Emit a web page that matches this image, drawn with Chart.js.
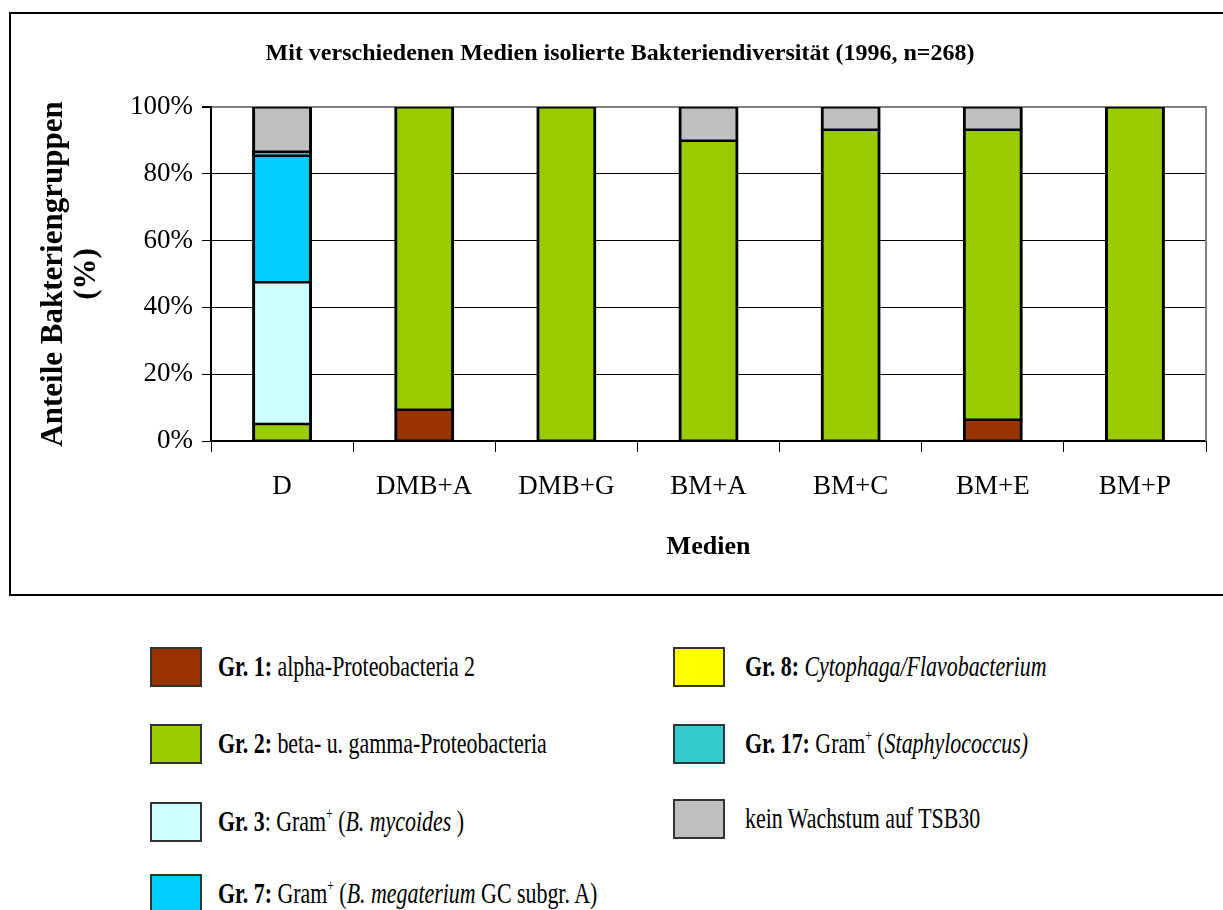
<!DOCTYPE html>
<html lang="de">
<head>
<meta charset="utf-8">
<title>Bakteriendiversität 1996</title>
<script src="https://cdn.jsdelivr.net/npm/chart.js@4.4.1/dist/chart.umd.min.js"></script>
<style>
  html, body { margin: 0; padding: 0; background: #fff; overflow: hidden; }
  body { width: 1223px; height: 910px; position: relative; font-family: 'Liberation Serif', 'Times New Roman', serif; }
  #frame { position: absolute; left: 9px; top: 12px; width: 1300px; height: 584px; border: 2px solid #000; box-sizing: border-box; }
  #chart { position: absolute; left: 0; top: 0; }
  .item { position: absolute; height: 40px; }
  .swatch { position: absolute; left: 0; top: 0; width: 52px; height: 40px; border: 2px solid #333; box-sizing: border-box; }
  .label { position: absolute; top: 50%; white-space: nowrap; font-size: 30px; line-height: 1; color: #000;
           transform: translateY(-54%) scaleX(0.73); transform-origin: left center; }
  .label sup { font-size: 16px; vertical-align: 12px; }
</style>
</head>
<body>
<div id="frame"></div>
<canvas id="chart" width="1223" height="596"></canvas>
<div id="legend"></div>

<script>
// --- Data ---
const categories = ['D', 'DMB+A', 'DMB+G', 'BM+A', 'BM+C', 'BM+E', 'BM+P'];

const gr1  = [0,    9.4,  0,   0,  0,    6.4,  0];   // alpha-Proteobacteria 2
const gr2  = [5.2,  90.6, 100, 90, 93.3, 86.9, 100]; // beta- u. gamma-Proteobacteria
const gr3  = [42.4, 0,    0,   0,  0,    0,    0];   // Gram+ (B. mycoides)
const gr7  = [37.9, 0,    0,   0,  0,    0,    0];   // Gram+ (B. megaterium)
const gr8  = [0,    0,    0,   0,  0,    0,    0];   // Cytophaga/Flavobacterium
const gr17 = [1.2,  0,    0,   0,  0,    0,    0];   // Gram+ (Staphylococcus)
const kein = [13.3, 0,    0,   10, 6.7,  6.7,  0];   // kein Wachstum auf TSB30

const yTicks = [0, 20, 40, 60, 80, 100];

const seriesNames = [
  'Gr. 1: alpha-Proteobacteria 2',
  'Gr. 2: beta- u. gamma-Proteobacteria',
  'Gr. 3: Gram+ (B. mycoides)',
  'Gr. 7: Gram+ (B. megaterium GC subgr. A)',
  'Gr. 8: Cytophaga/Flavobacterium',
  'Gr. 17: Gram+ (Staphylococcus)',
  'kein Wachstum auf TSB30'
];
const seriesData = [gr1, gr2, gr3, gr7, gr8, gr17, kein];
const seriesColors = ['#993300', '#99CC00', '#CCFFFF', '#00CCFF', '#FFFF00', '#33CCCC', '#C0C0C0'];

// legend text with the original mixed bold / italic / superscript styling
const legendHtml = [
  '<b>Gr. 1:</b> alpha-Proteobacteria 2',
  '<b>Gr. 2:</b> beta- u. gamma-Proteobacteria',
  '<b>Gr. 3</b>: Gram<sup>+</sup> (<i>B. mycoides</i> )',
  '<b>Gr. 7:</b> Gram<sup>+</sup> (<i>B. megaterium</i> GC subgr. A)',
  '<b>Gr. 8:</b> <i>Cytophaga/Flavobacterium</i>',
  '<b>Gr. 17:</b> Gram<sup>+</sup> (<i>Staphylococcus)</i>',
  'kein Wachstum auf TSB30'
];
// --- Legend layout (left column: first four, right column: rest) ---
const legendPos = [
  [150, 647], [150, 724], [150, 802], [150, 874],
  [673, 647], [673, 724], [673, 799]
];

const FONT = "'Liberation Serif', 'Times New Roman', serif";
Chart.defaults.font.family = FONT;
Chart.defaults.color = '#000';

// gray right edge of the plot area
const plotEdge = {
  id: 'plotEdge',
  beforeDatasetsDraw(chart) {
    const { ctx, chartArea: a } = chart;
    ctx.save();
    ctx.strokeStyle = '#808080';
    ctx.lineWidth = 2;
    ctx.beginPath();
    ctx.moveTo(a.right, a.top - 1);
    ctx.lineTo(a.right, a.bottom);
    ctx.stroke();
    ctx.restore();
  }
};

const datasets = seriesNames.map((name, i) => ({
  label: name,
  data: seriesData[i],
  backgroundColor: seriesColors[i],
  borderColor: '#000',
  borderWidth: { top: 2, bottom: 1.5, left: 3, right: 3 },
  borderSkipped: false,
  inflateAmount: 0.5, // hides anti-aliasing seams between stacked segments
  categoryPercentage: 1,
  barPercentage: 0.415
}));

new Chart(document.getElementById('chart'), {
  type: 'bar',
  data: { labels: categories, datasets },
  plugins: [plotEdge],
  options: {
    responsive: false,
    animation: false,
    devicePixelRatio: 1,
    layout: { padding: { left: 34, right: 17, top: 0, bottom: 0 } },
    plugins: {
      legend: { display: false },
      tooltip: { enabled: false },
      title: {
        display: true,
        text: 'Mit verschiedenen Medien isolierte Bakteriendiversität (1996, n=268)',
        color: '#000',
        font: { size: 24, weight: 'bold', lineHeight: 1.2 },
        padding: { top: 39.6, bottom: 38.6 }
      }
    },
    scales: {
      x: {
        stacked: true,
        grid: { display: true, drawOnChartArea: false, drawTicks: true, tickLength: 11, color: '#000', offset: true },
        border: { color: '#000', width: 2 },
        ticks: { font: { size: 27 }, padding: 19, color: '#000' },
        title: { display: true, text: 'Medien', color: '#000', font: { size: 26, weight: 'bold', lineHeight: 1.2 }, padding: { top: 0, bottom: 33 } },
        afterFit(scale) { scale.height = 155; }
      },
      y: {
        stacked: true,
        min: 0,
        max: 100,
        afterBuildTicks(scale) { scale.ticks = yTicks.map(v => ({ value: v })); },
        grid: {
          color: ctx => (ctx.tick && ctx.tick.value === 100 ? '#808080' : '#000'),
          lineWidth: ctx => (ctx.tick && ctx.tick.value === 100 ? 2 : 1),
          tickColor: '#000',
          tickLength: 9
        },
        border: { color: '#000', width: 2 },
        ticks: { font: { size: 27 }, padding: 9, color: '#000', callback: v => v + '%' },
        title: {
          display: true,
          text: ['Anteile Bakteriengruppen', '(%)'],
          color: '#000',
          font: { size: 31, weight: 'bold', lineHeight: 1.05 },
          padding: { top: 4, bottom: 0 }
        },
        afterFit(scale) { scale.width = 177; }
      }
    }
  }
});

// --- HTML legend built from the same series ---
const legendEl = document.getElementById('legend');
legendHtml.forEach((html, i) => {
  const item = document.createElement('div');
  item.className = 'item';
  item.style.left = legendPos[i][0] + 'px';
  item.style.top = legendPos[i][1] + 'px';
  item.innerHTML = `<div class="swatch" style="background:${seriesColors[i]}"></div>
    <div class="label" style="left:${i < 4 ? 68 : 72}px">${html}</div>`;
  legendEl.appendChild(item);
});
</script>
</body>
</html>
